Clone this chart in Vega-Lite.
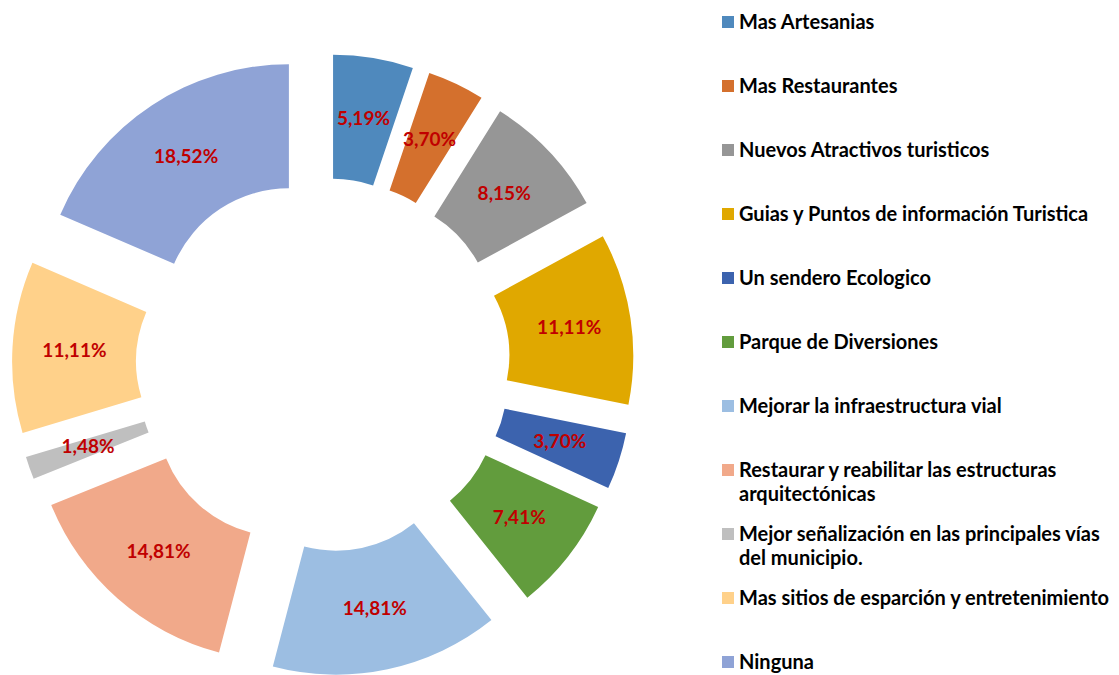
{
  "$schema": "https://vega.github.io/schema/vega-lite/v6.json",
  "width": 646,
  "height": 675,
  "padding": 0,
  "background": "white",
  "config": {
    "view": {"stroke": null},
    "locale": {"number": {"decimal": ",", "thousands": ".", "grouping": [3], "currency": ["", " €"]}}
  },
  "data": {
    "values": [
      {"n": 1, "category": "Mas Artesanias", "share": 0.0519},
      {"n": 2, "category": "Mas Restaurantes", "share": 0.0370},
      {"n": 3, "category": "Nuevos Atractivos turisticos", "share": 0.0815},
      {"n": 4, "category": "Guias y Puntos de información Turistica", "share": 0.1111},
      {"n": 5, "category": "Un sendero Ecologico", "share": 0.0370},
      {"n": 6, "category": "Parque de Diversiones", "share": 0.0741},
      {"n": 7, "category": "Mejorar la infraestructura vial", "share": 0.1481},
      {"n": 8, "category": "Restaurar y reabilitar las estructuras arquitectónicas", "share": 0.1481},
      {"n": 9, "category": "Mejor señalización en las principales vías del municipio.", "share": 0.0148},
      {"n": 10, "category": "Mas sitios de esparción y entretenimiento", "share": 0.1111},
      {"n": 11, "category": "Ninguna", "share": 0.1852}
    ]
  },
  "encoding": {
    "theta": {"field": "share", "type": "quantitative", "stack": true},
    "order": {"field": "n", "type": "quantitative", "sort": "ascending"}
  },
  "layer": [
    {
      "mark": {
        "type": "arc",
        "innerRadius": 125,
        "outerRadius": 249,
        "x": {"expr": "width/2 + 62*sin(PI*(datum.share_start + datum.share_end))"},
        "y": {"expr": "height/2 + 27.5 - 62*cos(PI*(datum.share_start + datum.share_end))"}
      },
      "encoding": {
        "color": {
          "field": "category",
          "type": "nominal",
          "sort": null,
          "scale": {
            "domain": [
              "Mas Artesanias",
              "Mas Restaurantes",
              "Nuevos Atractivos turisticos",
              "Guias y Puntos de información Turistica",
              "Un sendero Ecologico",
              "Parque de Diversiones",
              "Mejorar la infraestructura vial",
              "Restaurar y reabilitar las estructuras arquitectónicas",
              "Mejor señalización en las principales vías del municipio.",
              "Mas sitios de esparción y entretenimiento",
              "Ninguna"
            ],
            "range": ["#4F89BD", "#D4702D", "#969696", "#E0A800", "#3C63AE", "#629C3D", "#9CBEE2", "#F1A98A", "#BFBFBF", "#FFD18A", "#8FA3D6"]
          },
          "legend": {
            "title": null,
            "orient": "none",
            "legendX": 718,
            "legendY": 12,
            "padding": 0,
            "symbolType": "square",
            "symbolSize": 144,
            "symbolStrokeWidth": 0,
            "labelFont": "Lato",
            "labelFontSize": 20,
            "labelFontWeight": "bold",
            "labelColor": "#000000",
            "labelOffset": 1,
            "labelLimit": 500,
            "labelBaseline": "alphabetic",
            "gridAlign": "all",
            "rowPadding": 19,
            "labelExpr": "datum.label == 'Restaurar y reabilitar las estructuras arquitectónicas' ? ['Restaurar y reabilitar las estructuras', 'arquitectónicas'] : datum.label == 'Mejor señalización en las principales vías del municipio.' ? ['Mejor señalización en las principales vías', 'del municipio.'] : datum.label",
            "encode": {
              "labels": {"update": {"dy": {"value": 7}, "lineHeight": {"value": 24}}}
            }
          }
        }
      }
    },
    {
      "mark": {
        "type": "text",
        "radius": 249,
        "y": {"expr": "height/2 + 27.5"},
        "font": "Lato",
        "fontSize": 19,
        "fontWeight": "bold",
        "color": "#C00000"
      },
      "encoding": {
        "text": {"field": "share", "type": "quantitative", "format": ".2%"}
      }
    }
  ]
}
